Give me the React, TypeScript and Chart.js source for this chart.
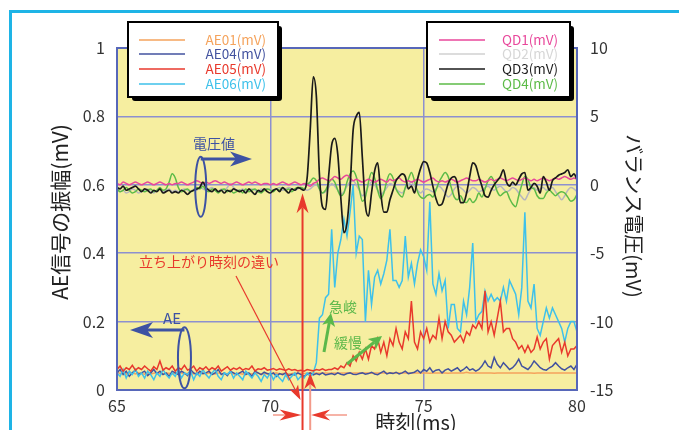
import { useEffect, useRef } from 'react';
import { Chart, registerables } from 'chart.js';

Chart.register(...registerables);

const FONT = '"Noto Sans CJK JP", "Noto Sans", sans-serif';

// sample timing (ms)
const TIME_START = 65;
const TIME_STEP = 0.1;

const X_TICKS = [65, 70, 75, 80];

// AE amplitude (mV), left axis
const AE01 = [
  0.052, 0.048, 0.05, 0.046, 0.049, 0.051, 0.047, 0.05, 0.048, 0.046,
  0.05, 0.047, 0.049, 0.052, 0.048, 0.046, 0.05, 0.049, 0.047, 0.05,
  0.048, 0.05, 0.046, 0.049, 0.051, 0.047, 0.05, 0.048, 0.049, 0.046,
  0.05, 0.048, 0.047, 0.05, 0.049, 0.046, 0.048, 0.05, 0.047, 0.049,
  0.048, 0.046, 0.05, 0.048, 0.047, 0.049, 0.05, 0.046, 0.048, 0.047,
  0.049, 0.048, 0.05, 0.047, 0.048, 0.049, 0.047, 0.048, 0.05, 0.048,
  0.049, 0.048, 0.049, 0.05, 0.049, 0.05, 0.049, 0.05, 0.05, 0.049,
  0.05, 0.05, 0.049, 0.05, 0.05, 0.05, 0.049, 0.05, 0.05, 0.05,
  0.05, 0.05, 0.05, 0.049, 0.05, 0.05, 0.05, 0.05, 0.049, 0.05,
  0.05, 0.05, 0.05, 0.05, 0.05, 0.049, 0.05, 0.05, 0.05, 0.05,
  0.05, 0.05, 0.049, 0.05, 0.05, 0.05, 0.05, 0.05, 0.049, 0.05,
  0.05, 0.05, 0.05, 0.05, 0.052, 0.05, 0.05, 0.05, 0.05, 0.05,
  0.05, 0.05, 0.05, 0.049, 0.05, 0.05, 0.05, 0.05, 0.05, 0.05,
  0.05, 0.05, 0.05, 0.05, 0.05, 0.05, 0.049, 0.05, 0.05, 0.05,
  0.05, 0.05, 0.05, 0.05, 0.05, 0.05, 0.05, 0.05, 0.05, 0.05,
  0.05,
];

const AE04 = [
  0.05, 0.06, 0.045, 0.055, 0.04, 0.05, 0.058, 0.045, 0.05, 0.055,
  0.042, 0.05, 0.06, 0.048, 0.055, 0.045, 0.05, 0.04, 0.055, 0.05,
  0.045, 0.055, 0.05, 0.042, 0.06, 0.05, 0.045, 0.055, 0.048, 0.05,
  0.055, 0.045, 0.05, 0.06, 0.045, 0.05, 0.042, 0.055, 0.05, 0.045,
  0.05, 0.055, 0.045, 0.05, 0.04, 0.055, 0.05, 0.045, 0.052, 0.048,
  0.045, 0.05, 0.04, 0.048, 0.045, 0.05, 0.042, 0.046, 0.044, 0.05,
  0.045, 0.04, 0.046, 0.05, 0.044, 0.048, 0.045, 0.05, 0.044, 0.046,
  0.048, 0.045, 0.05, 0.046, 0.044, 0.048, 0.05, 0.046, 0.045, 0.048,
  0.05, 0.046, 0.048, 0.052, 0.047, 0.045, 0.05, 0.055, 0.047, 0.05,
  0.048, 0.052, 0.047, 0.05, 0.055, 0.048, 0.05, 0.052, 0.058, 0.05,
  0.06, 0.055, 0.065, 0.052, 0.058, 0.06, 0.05, 0.058, 0.062, 0.055,
  0.06, 0.065, 0.055, 0.06, 0.068, 0.058, 0.062, 0.055, 0.06, 0.07,
  0.085, 0.07, 0.065, 0.095, 0.075, 0.065, 0.08, 0.07, 0.06, 0.065,
  0.075, 0.09, 0.07, 0.065, 0.06, 0.07, 0.085, 0.075, 0.065, 0.06,
  0.058, 0.065, 0.07, 0.08, 0.07, 0.062, 0.058, 0.065, 0.07, 0.06,
  0.075,
];

const AE05 = [
  0.06, 0.07, 0.055, 0.065, 0.06, 0.072, 0.058, 0.065, 0.06, 0.07,
  0.062, 0.055, 0.068, 0.06, 0.085, 0.058, 0.065, 0.06, 0.07, 0.055,
  0.065, 0.06, 0.072, 0.058, 0.062, 0.07, 0.055, 0.065, 0.06, 0.068,
  0.058, 0.065, 0.06, 0.07, 0.055, 0.062, 0.068, 0.058, 0.064, 0.06,
  0.066, 0.058, 0.063, 0.06, 0.07, 0.056, 0.062, 0.06, 0.065, 0.058,
  0.06, 0.063, 0.058, 0.062, 0.06, 0.057, 0.062, 0.058, 0.06, 0.056,
  0.058, 0.055, 0.06, 0.058, 0.056, 0.06, 0.058, 0.062, 0.057, 0.06,
  0.06, 0.065, 0.06, 0.07, 0.065, 0.08, 0.07, 0.1, 0.085, 0.11,
  0.09, 0.12, 0.09, 0.13, 0.12, 0.15, 0.11, 0.14, 0.1, 0.15,
  0.13, 0.18, 0.14, 0.12, 0.17, 0.15, 0.26, 0.14, 0.12, 0.17,
  0.15, 0.18, 0.14, 0.16, 0.15, 0.21, 0.15, 0.2, 0.17, 0.16,
  0.14, 0.15, 0.16, 0.14, 0.17, 0.16, 0.19, 0.18, 0.2, 0.18,
  0.29, 0.17, 0.2, 0.16, 0.21, 0.26, 0.17, 0.18, 0.18, 0.15,
  0.14, 0.12, 0.13, 0.11, 0.13, 0.11, 0.12, 0.155, 0.12, 0.14,
  0.15, 0.09, 0.13, 0.14, 0.15, 0.11, 0.14, 0.1, 0.12, 0.12,
  0.13,
];

const AE06 = [
  0.05, 0.04, 0.06, 0.035, 0.055, 0.045, 0.06, 0.04, 0.05, 0.035,
  0.055, 0.045, 0.03, 0.05, 0.04, 0.06, 0.045, 0.035, 0.05, 0.04,
  0.06, 0.035, 0.05, 0.045, 0.055, 0.03, 0.05, 0.04, 0.06, 0.045,
  0.035, 0.05, 0.06, 0.04, 0.03, 0.05, 0.045, 0.055, 0.035, 0.05,
  0.04, 0.03, 0.055, 0.045, 0.035, 0.05, 0.04, 0.025, 0.045, 0.035,
  0.05, 0.03, 0.045, 0.035, 0.025, 0.045, 0.03, 0.04, 0.05, 0.03,
  0.04, 0.035, 0.05, 0.04, 0.05, 0.08, 0.21, 0.22, 0.27, 0.28,
  0.47, 0.3, 0.4, 0.44, 0.5, 0.45, 0.52, 0.6, 0.4, 0.45,
  0.44, 0.2, 0.35, 0.25, 0.33, 0.35, 0.31, 0.34, 0.38, 0.47,
  0.32, 0.32, 0.3, 0.32, 0.45, 0.33, 0.37, 0.31, 0.37, 0.41,
  0.39, 0.35, 0.55, 0.31, 0.28, 0.34, 0.29, 0.32, 0.18, 0.25,
  0.25, 0.18, 0.17, 0.26, 0.22, 0.3, 0.43, 0.2, 0.22, 0.23,
  0.29, 0.26, 0.28, 0.26, 0.27, 0.26, 0.3, 0.26, 0.32, 0.3,
  0.28, 0.22, 0.3, 0.52, 0.26, 0.24, 0.31, 0.18, 0.16, 0.2,
  0.24, 0.21, 0.24, 0.22, 0.2, 0.18, 0.14, 0.18, 0.2, 0.2,
  0.17,
];

// balance voltage (mV), right axis
const QD1 = [
  0.1, 0.0, 0.2, 0.1, 0.0, 0.1, 0.2, 0.1, 0.0, 0.1,
  0.2, 0.1, 0.0, 0.1, 0.2, 0.1, 0.0, 0.1, 0.0, 0.1,
  0.1, 0.2, 0.1, 0.0, 0.1, 0.2, 0.3, 0.2, 0.1, 0.2,
  0.1, 0.2, 0.3, 0.2, 0.1, 0.2, 0.1, 0.0, 0.1, 0.2,
  0.1, 0.0, 0.1, 0.2, 0.1, 0.2, 0.1, 0.0, 0.1, 0.1,
  0.0, 0.1, 0.0, 0.1, 0.2, 0.1, 0.0, 0.1, 0.2, 0.1,
  0.0, 0.1, 0.0, -0.1, 0.1, 0.2, 0.4, 0.5, 0.4, 0.3,
  0.4, 0.6, 0.5, 0.4, 0.6, 0.7, 0.5, 0.3, 0.4, 0.3,
  0.2, 0.3, 0.4, 0.3, 0.2, 0.3, 0.4, 0.3, 0.2, 0.4,
  0.3, 0.4, 0.5, 0.3, 0.2, 0.3, 0.2, 0.3, 0.4, 0.3,
  0.2, 0.3, 0.4, 0.5, 0.3, 0.2, 0.3, 0.2, 0.3, 0.4,
  0.3, 0.2, 0.3, 0.4, 0.5, 0.4, 0.3, 0.3, 0.4, 0.3,
  0.2, 0.3, 0.4, 0.3, 0.4, 0.5, 0.4, 0.3, 0.4, 0.5,
  0.4, 0.3, 0.4, 0.5, 0.4, 0.3, 0.4, 0.3, 0.4, 0.5,
  0.4, 0.3, 0.4, 0.5, 0.4, 0.5, 0.6, 0.5, 0.4, 0.5,
  0.4,
];

const QD2 = [
  -0.3, -0.5, -0.4, -0.6, -0.5, -0.3, -0.4, -0.6, -0.5, -0.4,
  -0.3, -0.5, -0.6, -0.4, -0.3, -0.5, -0.4, -0.3, -0.5, -0.4,
  -0.5, -0.4, -0.3, -0.4, -0.5, -0.3, -0.4, -0.2, -0.3, -0.4,
  -0.3, -0.2, -0.4, -0.5, -0.3, -0.4, -0.2, 0.1, -0.2, -0.4,
  -0.4, -0.3, -0.5, -0.4, -0.3, -0.4, -0.5, -0.3, -0.4, -0.3,
  -0.3, -0.4, -0.3, -0.2, -0.4, -0.3, -0.2, -0.3, -0.4, -0.3,
  -0.2, -0.3, -0.4, -0.3, -0.1, 0.0, -0.3, -0.6, -0.5, -0.2,
  0.1, -0.1, -0.4, -0.7, -0.5, -0.1, 0.2, 0.3, 0.0, -0.4,
  -0.8, -0.6, -0.1, 0.2, 0.0, -0.4, -0.7, -0.5, -0.2, 0.1,
  0.0, -0.3, -0.5, -0.6, -0.3, 0.0, 0.2, -0.1, -0.4, -0.6,
  -0.4, -0.3, -0.4, -0.5, -0.3, -0.1, -0.3, -0.6, -0.9, -0.7,
  -0.3, -0.1, -0.2, -0.4, -0.6, -0.4, -0.2, -0.3, -0.5, -0.4,
  -0.2, -0.1, -0.3, -0.4, -0.2, -0.1, -0.3, -0.5, -0.4, -0.2,
  -0.3, -0.6, -0.9, -1.1, -0.7, -0.3, -0.2, -0.4, -0.3, -0.2,
  -0.4, -0.3, -0.2, -0.5, -0.8, -1.1, -0.8, -0.4, -0.2, -0.3,
  -0.5,
];

const QD3 = [
  -0.2, -0.3, -0.1, -0.4, -0.3, -0.2, -0.1, -0.3, -0.5, -0.3,
  -0.4, -0.6, -0.4, -0.5, -0.3, -0.6, -0.5, -0.4, -0.6, -0.5,
  -0.6, -0.4, -0.5, -0.7, -0.5, -0.4, -0.3, -0.2, 0.2, -0.2,
  -0.4, -0.5, -0.3, -0.5, -0.4, -0.6, -0.4, -0.5, -0.3, -0.4,
  -0.5, -0.4, -0.6, -0.3, -0.5, -0.7, -0.4, -0.5, -0.3, -0.5,
  -0.6, -0.4, -0.3, -0.5, -0.2, -0.4, -0.6, -0.3, -0.4, -0.2,
  -0.3, -0.4, 0.5, 4.0, 7.9, 6.5, 0.8, -1.6, -1.8, 0.6,
  2.9, 3.4, 2.2, -1.0, -3.5, -2.8, -0.2, 4.0, 5.0, 5.3,
  2.0, -1.5, -2.3, -0.6, 1.0, 1.6, -0.6, -2.0, -2.0, -1.1,
  -0.4, 0.3, 0.6, 0.8, 0.6, -0.3, -0.1, -0.6, 0.4, 1.2,
  1.7, 1.6, 0.9, -0.1, -1.0, -1.5, -1.4, -0.7, 0.1, 0.5,
  0.6, 0.1, -1.3, -1.3, -0.6, 0.6, 1.6, 1.4, 0.6, -0.1,
  -0.8, -0.9, -0.4, 0.0, 0.3, 0.6, 1.1, 0.2, -0.1, 0.2,
  0.0, 0.4, 0.8, 0.9, -0.4, -0.2, 0.1, -0.1, -0.6, 0.6,
  0.2, -0.4, 0.3, 0.5, 0.7, 0.8, 0.9, 1.1, 0.6, 0.8,
  0.4,
];

const QD4 = [
  -0.3, -0.5, -0.4, -0.2, -0.4, -0.6, -0.5, -0.3, -0.4, -0.5,
  -0.4, -0.3, -0.5, -0.4, -0.2, -0.4, -0.3, 0.2, 0.8, 0.5,
  -0.2, -0.5, -0.4, -0.3, -0.5, -0.4, -0.2, -0.3, -0.1, -0.4,
  -0.5, -0.3, -0.4, -0.6, -0.4, -0.3, -0.5, -0.4, -0.6, -0.5,
  -0.4, -0.6, -0.3, -0.5, -0.4, -0.3, -0.5, -0.6, -0.4, -0.3,
  -0.4, -0.5, -0.3, -0.4, -0.2, -0.4, -0.3, -0.5, -0.3, -0.2,
  -0.2, -0.3, 0.0, 0.2, 0.5, 0.3, -0.3, -0.6, -0.4, 0.1,
  0.4, 0.2, -0.4, -0.8, -0.6, 0.2, 0.8, 1.0, 0.6, -0.3,
  -1.2, -0.9, 0.2, 0.9, 0.5, -0.4, -1.0, -0.6, 0.3, 0.8,
  0.5, -0.3, -0.7, -0.9, -0.2, 0.4, 0.9, 0.3, -0.5, -0.9,
  -1.0, -0.8, -0.7, -0.9, -0.4, 0.2, 0.6, 0.9, 0.6, -0.2,
  -0.9, -1.1, -0.8, -1.2, -1.3, -1.0, -1.3, -1.1, -0.6, -0.9,
  -0.3, 0.3, 0.6, 0.2, -0.5, -0.8, -0.6, -0.5, -1.0, -1.4,
  -1.6, -0.8, 0.0, 0.6, 0.4, -0.2, -0.3, -0.8, -1.0, -1.0,
  -0.6, -0.4, -0.6, -0.8, -0.6, -0.5, -0.6, -0.9, -1.2, -1.1,
  -0.7,
];

const LEFT_LEGEND = ['AE01(mV)', 'AE04(mV)', 'AE05(mV)', 'AE06(mV)'];
const RIGHT_LEGEND = ['QD1(mV)', 'QD2(mV)', 'QD3(mV)', 'QD4(mV)'];

const C = {
  ae01: '#f5a35c',
  ae04: '#42529f',
  ae05: '#e8392c',
  ae06: '#3ec1ea',
  qd1: '#e8479b',
  qd2: '#b6b6bd',
  qd3: '#1a1a1a',
  qd4: '#5cbb47',
  blue: '#3d52a3',
  green: '#5cb84a',
  red: '#e8392c',
  salmon: '#f39a8a',
};

function toPoints(vals: number[]) {
  return vals.map((v, i) => ({ x: +(TIME_START + i * TIME_STEP).toFixed(2), y: v }));
}

function arrowHead(ctx: CanvasRenderingContext2D, tx: number, ty: number, angle: number, len: number, half: number, notch: number, color: string) {
  ctx.save();
  ctx.translate(tx, ty);
  ctx.rotate(angle);
  ctx.beginPath();
  ctx.moveTo(0, 0);
  ctx.lineTo(-len, -half);
  ctx.lineTo(-len + notch, 0);
  ctx.lineTo(-len, half);
  ctx.closePath();
  ctx.fillStyle = color;
  ctx.fill();
  ctx.restore();
}

function arrow(ctx: CanvasRenderingContext2D, x1: number, y1: number, x2: number, y2: number, lw: number, lineColor: string, headColor: string, len: number, half: number, notch: number) {
  const a = Math.atan2(y2 - y1, x2 - x1);
  const bx = x2 - Math.cos(a) * (len - notch);
  const by = y2 - Math.sin(a) * (len - notch);
  ctx.save();
  ctx.strokeStyle = lineColor;
  ctx.lineWidth = lw;
  ctx.beginPath();
  ctx.moveTo(x1, y1);
  ctx.lineTo(bx, by);
  ctx.stroke();
  ctx.restore();
  arrowHead(ctx, x2, y2, a, len, half, notch, headColor);
}

function text(ctx: CanvasRenderingContext2D, s: string, x: number, y: number, size: number, color: string, align: CanvasTextAlign = 'center', rot = 0) {
  ctx.save();
  ctx.translate(x, y);
  ctx.rotate(rot);
  ctx.font = `${size}px ${FONT}`;
  ctx.fillStyle = color;
  ctx.textAlign = align;
  ctx.textBaseline = 'middle';
  ctx.fillText(s, 0, 0);
  ctx.restore();
}

function legendBox(ctx: CanvasRenderingContext2D, x: number, y: number, w: number, h: number, labels: string[], colors: string[], textColors: string[], lineX1: number, lineX2: number, textRight: number) {
  ctx.save();
  ctx.fillStyle = '#000';
  ctx.beginPath();
  ctx.roundRect(x + 4, y + 4, w, h, 3);
  ctx.fill();
  ctx.fillStyle = '#fff';
  ctx.fillRect(x, y, w, h);
  ctx.strokeStyle = '#000';
  ctx.lineWidth = 2;
  ctx.strokeRect(x, y, w, h);
  const rows = [18, 32, 47, 62];
  labels.forEach((lab, i) => {
    const yy = y + rows[i];
    ctx.strokeStyle = colors[i];
    ctx.lineWidth = 1.5;
    ctx.beginPath();
    ctx.moveTo(x + lineX1, yy);
    ctx.lineTo(x + lineX2, yy);
    ctx.stroke();
    text(ctx, lab, x + textRight, yy, 13.5, textColors[i], 'right');
  });
  ctx.restore();
}

const decoPlugin = {
  id: 'deco',
  beforeDraw(chart: any) {
    const { ctx, chartArea: a, width, height } = chart;
    ctx.save();
    ctx.fillStyle = '#fff';
    ctx.fillRect(0, 0, width, height);
    ctx.strokeStyle = '#1eb4e6';
    ctx.lineWidth = 3;
    ctx.beginPath();
    ctx.moveTo(10.5, height);
    ctx.lineTo(10.5, 11.5);
    ctx.lineTo(width, 11.5);
    ctx.stroke();
    ctx.fillStyle = '#f6eea0';
    ctx.fillRect(a.left, a.top, a.right - a.left, a.bottom - a.top);
    ctx.restore();
  },
  afterDatasetsDraw(chart: any) {
    const { ctx, chartArea: a, scales } = chart;
    const px = (t: number) => scales.x.getPixelForValue(t);
    const pl = (v: number) => scales.y.getPixelForValue(v);
    ctx.save();
    // plot frame
    ctx.strokeStyle = '#5767b9';
    ctx.lineWidth = 2;
    ctx.strokeRect(a.left, a.top, a.right - a.left, a.bottom - a.top);

    // ellipses
    ctx.strokeStyle = C.blue;
    ctx.lineWidth = 2;
    ctx.beginPath();
    ctx.ellipse(px(67.73), pl(0.594), 5.5, 30, 0, 0, Math.PI * 2);
    ctx.stroke();
    ctx.beginPath();
    ctx.ellipse(px(67.2), pl(0.094), 6.5, 30.5, 0, 0, Math.PI * 2);
    ctx.stroke();

    // blue arrows + labels
    arrow(ctx, px(67.73), 159, 252, 159, 3, C.blue, C.blue, 22, 7.5, 6);
    text(ctx, '電圧値', 214, 144, 14, C.blue);
    arrow(ctx, px(67.2), 330, 130, 330, 3, C.blue, C.blue, 23, 8, 6);
    text(ctx, 'AE', 172, 318, 15, C.blue);

    // red onset arrows
    const t1 = px(71.05);
    const t2 = px(71.3);
    arrow(ctx, t1, 432, t1, pl(0.575), 2, C.red, C.red, 20, 6, 6);
    arrow(ctx, t2, 432, t2, 373, 2, C.salmon, C.red, 16, 6, 5);
    arrow(ctx, 273, 415, t1 - 1, 415, 1.5, C.salmon, C.red, 22, 5.5, 6);
    arrow(ctx, 347, 415, t2 + 1, 415, 1.5, C.salmon, C.red, 19, 5.5, 6);
    arrow(ctx, 236, 276, t1 - 2, 400, 1.2, C.red, C.red, 15, 5, 4);
    text(ctx, '立ち上がり時刻の違い', 209, 262, 14, C.red);

    // green arrows
    arrow(ctx, 324, 352, 331, 313, 3, C.green, C.green, 13, 6.5, 3);
    arrow(ctx, 347, 364, 382, 336, 3, C.green, C.green, 13, 6.5, 3);
    text(ctx, '急峻', 343, 307, 14, C.green);
    text(ctx, '緩慢', 348, 343, 14, C.green);

    // axis titles
    text(ctx, 'AE信号の振幅(mV)', 60, 212, 21, '#222', 'center', -Math.PI / 2);
    text(ctx, 'バランス電圧(mV)', 634, 216, 20, '#222', 'center', Math.PI / 2);
    text(ctx, '時刻(ms)', 416, 422, 20, '#222');

    // legends
    legendBox(ctx, 128, 22, 150, 75, LEFT_LEGEND,
      [C.ae01, C.ae04, C.ae05, C.ae06],
      [C.ae01, C.ae04, C.ae05, C.ae06], 11, 57, 138);
    legendBox(ctx, 427, 22, 143, 75, RIGHT_LEGEND,
      [C.qd1, '#d0d0d0', C.qd3, C.qd4],
      [C.qd1, '#d6d6d6', C.qd3, C.qd4], 12, 58, 131);
    ctx.restore();
  },
};

export default function App() {
  const ref = useRef<HTMLCanvasElement | null>(null);

  useEffect(() => {
    if (!ref.current) return;
    const mk = (label: string, data: number[], color: string, axis: string, order: number, width = 1.5, smooth = false) => ({
      label,
      data: toPoints(data),
      borderColor: color,
      backgroundColor: color,
      borderWidth: width,
      pointRadius: 0,
      yAxisID: axis,
      order,
      tension: smooth ? 0.4 : 0,
      cubicInterpolationMode: smooth ? 'monotone' : 'default',
    });
    const chart = new Chart(ref.current, {
      type: 'line',
      data: {
        datasets: [
          mk('QD2(mV)', QD2, C.qd2, 'y2', 8, 1.5, true),
          mk('QD4(mV)', QD4, C.qd4, 'y2', 7, 1.5, true),
          mk('QD1(mV)', QD1, C.qd1, 'y2', 6, 1.5, true),
          mk('AE01(mV)', AE01, C.ae01, 'y', 5),
          mk('AE04(mV)', AE04, C.ae04, 'y', 4),
          mk('AE06(mV)', AE06, C.ae06, 'y', 3),
          mk('AE05(mV)', AE05, C.ae05, 'y', 2),
          mk('QD3(mV)', QD3, C.qd3, 'y2', 1, 1.7, true),
        ] as any,
      },
      options: {
        responsive: false,
        animation: false,
        devicePixelRatio: 1,
        layout: { padding: { top: 48, left: 0, right: 0, bottom: 0 } },
        plugins: { legend: { display: false }, tooltip: { enabled: false } },
        events: [],
        scales: {
          x: {
            type: 'linear',
            min: 65,
            max: 80,
            afterBuildTicks: (s: any) => { s.ticks = X_TICKS.map((v) => ({ value: v })); },
            ticks: { padding: 6, color: '#333', font: { family: FONT, size: 16 }, maxRotation: 0, autoSkip: false, callback: (v: any) => String(v) },
            grid: { color: '#8d90cf', lineWidth: 1.5, drawTicks: false },
            border: { display: false },
            afterFit: (s: any) => { s.height = 40; },
          },
          y: {
            position: 'left',
            min: 0,
            max: 1,
            ticks: { stepSize: 0.2, padding: 12, color: '#333', font: { family: FONT, size: 16 }, callback: (v: any) => String(Number(Number(v).toFixed(1))) },
            grid: { color: '#8d90cf', lineWidth: 1.5, drawTicks: false },
            border: { display: false },
            afterFit: (s: any) => { s.width = 117; },
          },
          y2: {
            position: 'right',
            min: -15,
            max: 10,
            ticks: { stepSize: 5, padding: 13, color: '#333', font: { family: FONT, size: 16 } },
            grid: { display: false, drawTicks: false },
            border: { display: false },
            afterFit: (s: any) => { s.width = 102; },
          },
        },
      } as any,
      plugins: [decoPlugin],
    });
    return () => chart.destroy();
  }, []);

  return (
    <div style={{ position: 'fixed', left: 0, top: 0, width: 679, height: 430, background: '#fff' }}>
      <canvas ref={ref} width={679} height={430} style={{ display: 'block', width: 679, height: 430 }} />
    </div>
  );
}
